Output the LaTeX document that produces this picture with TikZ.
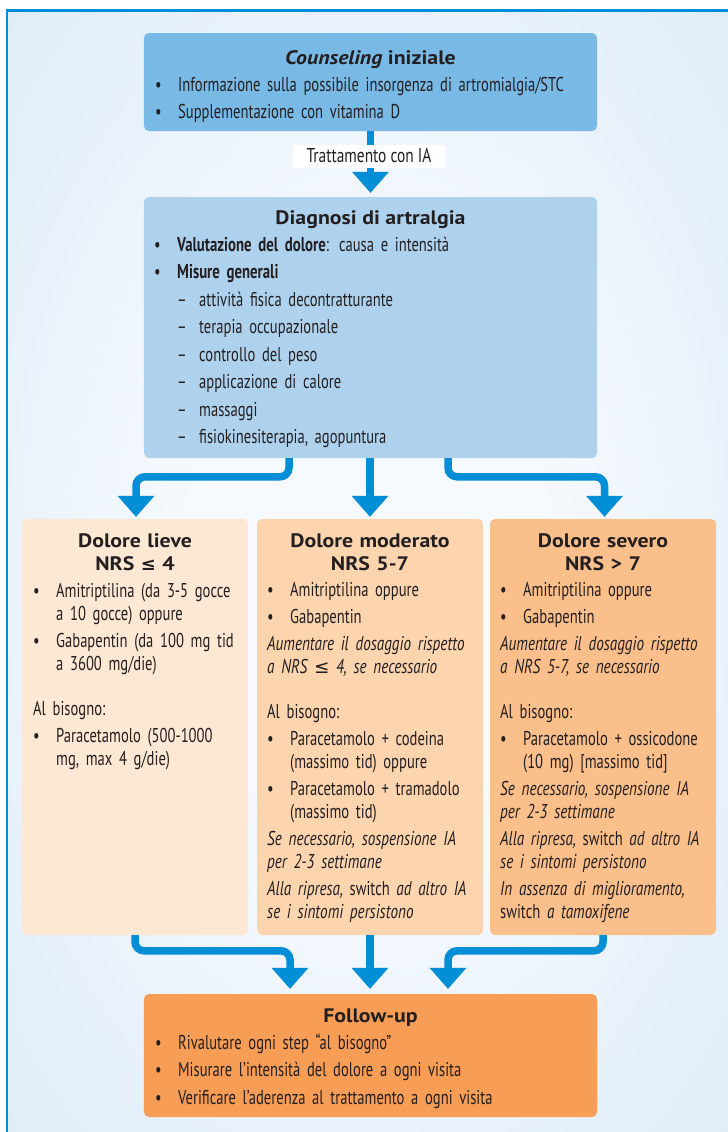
\documentclass[tikz,border=0pt]{standalone}
\usepackage{fontspec}
\setmainfont{PT Sans}[UprightFeatures={FakeStretch=0.73},
  BoldFeatures={FakeStretch=0.74}, ItalicFeatures={FakeStretch=0.76}]
\newfontfamily\labelfont[FakeStretch=0.77]{PT Sans}
\newfontfamily\headfont[FakeStretch=1.12]{PT Sans}
\newfontfamily\symfont[Scale=0.92]{DejaVu Sans}
\usetikzlibrary{arrows.meta,calc}

\definecolor{arrowc}{RGB}{0,142,214}
\definecolor{bgin}{RGB}{246,250,254}
\definecolor{bgout}{RGB}{210,228,245}
\definecolor{counselc}{RGB}{120,185,230}
\definecolor{diagc}{RGB}{174,210,238}
\definecolor{lievec}{RGB}{253,232,212}
\definecolor{moderc}{RGB}{252,212,174}
\definecolor{severc}{RGB}{250,191,138}
\definecolor{followc}{RGB}{248,157,86}
\definecolor{inkc}{RGB}{35,31,32}

\pgfdeclareradialshading{panelshade}{\pgfpoint{0bp}{0bp}}{%
  color(0bp)=(bgin); color(12bp)=(bgin); color(50bp)=(bgout); color(75bp)=(bgout)}

% symbol, list items and spacing helpers (each item closes its own paragraph)
\newcommand\lesym{{\symfont ≤}}
\newcommand\itm[1]{\noindent\hangindent=23bp\hangafter=1\makebox[23bp][l]{\textbullet}#1\par}
\newcommand\dsh[1]{\noindent\hangindent=45bp\hangafter=1\makebox[45bp][l]{\hspace{23bp}–}#1\par}
\newcommand\plainline[1]{\noindent#1\par}
\newcommand\gapline{\vspace{18bp}}
\newcommand\rowsetup{\fontsize{20bp}{23bp}\selectfont\rightskip=0pt plus 1fil\relax\setlength\parskip{4bp}}
\newcommand\widesetup{\fontsize{20bp}{27.5bp}\selectfont\rightskip=0pt plus 1fil\relax\setlength\parskip{0bp}}

\begin{document}
\begin{tikzpicture}[x=1bp,y=-1bp,
  box/.style={rounded corners=5bp, inner sep=0pt, draw=none},
  head/.style={font=\headfont\bfseries\fontsize{19.5bp}{23bp}\selectfont, text=inkc, inner sep=0pt},
  body/.style={text width=#1, text=inkc, inner sep=0pt, anchor=base west,
    font=\fontsize{20bp}{23bp}\selectfont},
  flow/.style={draw=arrowc, line width=7.5bp, rounded corners=9bp,
    -{Triangle[width=37bp,length=21bp,line width=0pt]}},
  lbl/.style={fill=white, inner sep=0pt, minimum width=152bp, minimum height=23bp,
    text=inkc, font=\labelfont\fontsize{20bp}{23bp}\selectfont}]

\useasboundingbox (0,0) rectangle (728,1132);
\fill[white] (0,0) rectangle (728,1132);

% panel background and frame
\shade[shading=panelshade] (8,11) rectangle (728,1132);
\draw[arrowc, line width=2.5bp] (7.2,1132) -- (7.2,10.3) -- (728,10.3);

% boxes
\node[box, fill=counselc, minimum width=453bp, minimum height=98bp] (counsel) at (370.5,82) {};
\node[box, fill=diagc, minimum width=453bp, minimum height=261bp] (diag) at (370.5,327.5) {};
\node[box, fill=lievec, minimum width=226bp, minimum height=416bp] (lieve) at (135,727) {};
\node[box, fill=moderc, minimum width=226bp, minimum height=416bp] (moder) at (370,727) {};
\node[box, fill=severc, minimum width=226bp, minimum height=416bp] (sever) at (603,727) {};
\node[box, fill=followc, minimum width=453bp, minimum height=123bp] (follow) at (370.5,1055.5) {};

% connectors
\draw[flow] (counsel.south) -- ($(diag.north)+(0,-4)$);
\node[lbl] (ia) at (369,156) {Trattamento con IA};

\draw[flow] ($(diag.south)+(-81.5,0)$) |- ($(lieve.north)+(1,-42)$) -- ($(lieve.north)+(1,-2)$);
\draw[flow] (moder.north |- diag.south) -- ($(moder.north)+(0,-2)$);
\draw[flow] ($(diag.south)+(77.5,0)$) |- ($(sever.north)+(1.5,-42)$) -- ($(sever.north)+(1.5,-2)$);

\draw[flow] (lieve.south) |- ($(follow.north)+(-80.5,-43)$) -- ($(follow.north)+(-80.5,-5)$);
\draw[flow] (moder.south) -- ($(moder.south |- follow.north)+(0,-5)$);
\draw[flow] (sever.south) |- ($(follow.north)+(77.5,-43)$) -- ($(follow.north)+(77.5,-5)$);

% counseling
\node[head, anchor=base] (counselH) at (370.5,64) {\textit{Counseling} iniziale};
\node[body=440bp] (counselT) at (155,91) {\widesetup
  \itm{Informazione sulla possibile insorgenza di artromialgia/STC}
  \itm{Supplementazione con vitamina D}};

% diagnosis
\node[head, anchor=base] (diagH) at (370.5,224) {Diagnosi di artralgia};
\node[body=440bp] (diagT) at (154,251) {\widesetup
  \itm{\textbf{Valutazione del dolore}: causa e intensità}
  \itm{\textbf{Misure generali}}
  \dsh{attività fisica decontratturante}
  \dsh{terapia occupazionale}
  \dsh{controllo del peso}
  \dsh{applicazione di calore}
  \dsh{massaggi}
  \dsh{fisiokinesiterapia, agopuntura}};

% mild pain
\node[head, text width=226bp, align=center, anchor=base] (lieveH) at (135,547) {Dolore lieve\\NRS \lesym{} 4};
\node[body=225bp] (lieveT) at (33,597) {\rowsetup
  \itm{Amitriptilina (da 3-5 gocce\newline a 10 gocce) oppure}
  \itm{Gabapentin (da 100 mg tid\newline a 3600 mg/die)}
  \gapline
  \plainline{Al bisogno:}
  \itm{Paracetamolo (500-1000\newline mg, max 4 g/die)}};

% moderate pain
\node[head, text width=226bp, align=center, anchor=base] (moderH) at (370,547) {Dolore moderato\\NRS 5-7};
\node[body=225bp] (moderT) at (267,596) {\rowsetup
  \itm{Amitriptilina oppure}
  \itm{Gabapentin}
  \plainline{\textit{Aumentare il dosaggio rispetto\newline a NRS \lesym{} 4, se necessario}}
  \gapline
  \plainline{Al bisogno:}
  \itm{Paracetamolo + codeina\newline (massimo tid) oppure}
  \itm{Paracetamolo + tramadolo\newline (massimo tid)}
  \plainline{\textit{Se necessario, sospensione IA\newline per 2-3 settimane}}
  \plainline{\textit{Alla ripresa,} switch \textit{ad altro IA\newline se i sintomi persistono}}};

% severe pain
\node[head, text width=226bp, align=center, anchor=base] (severH) at (603,547) {Dolore severo\\NRS > 7};
\node[body=225bp] (severT) at (500,596) {\rowsetup
  \itm{Amitriptilina oppure}
  \itm{Gabapentin}
  \plainline{\textit{Aumentare il dosaggio rispetto\newline a NRS 5-7, se necessario}}
  \gapline
  \plainline{Al bisogno:}
  \itm{Paracetamolo + ossicodone\newline (10 mg) [massimo tid]}
  \plainline{\textit{Se necessario, sospensione IA\newline per 2-3 settimane}}
  \plainline{\textit{Alla ripresa,} switch \textit{ad altro IA\newline se i sintomi persistono}}
  \plainline{\textit{In assenza di miglioramento,}\newline switch \textit{a tamoxifene}}};

% follow-up
\node[head, anchor=base] (followH) at (370.5,1022) {Follow-up};
\node[body=440bp] (followT) at (155,1049) {\widesetup
  \itm{Rivalutare ogni step “al bisogno”}
  \itm{Misurare l’intensità del dolore a ogni visita}
  \itm{Verificare l’aderenza al trattamento a ogni visita}};
\end{tikzpicture}
\end{document}
